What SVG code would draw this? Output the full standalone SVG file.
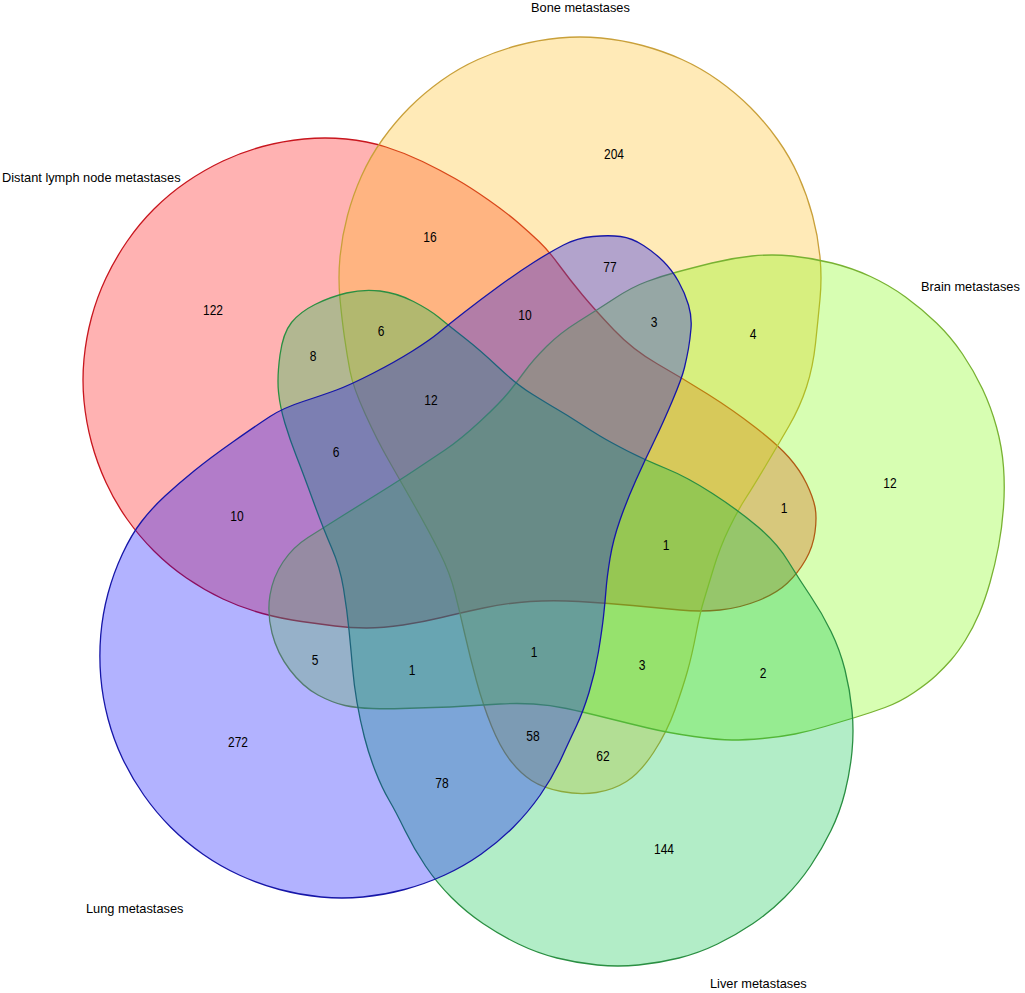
<svg xmlns="http://www.w3.org/2000/svg" width="1025" height="993" viewBox="0 0 1025 993">
<style>
.set { stroke-width: 1.3; stroke-linejoin: round; }
.t { font-family: "Liberation Sans", Arial, sans-serif; font-size: 14.5px; fill: #000; }
.lbl { font-family: "Liberation Sans", Arial, sans-serif; font-size: 12.8px; fill: #000; }
.num { text-anchor: middle; }
</style>
<rect x="0" y="0" width="1025" height="993" fill="#ffffff"/>
<g id="set-lymph">
<path class="set" fill="#FF0000" fill-opacity="0.3" stroke="#C8161E" d="M301.5,621.5 Q283,619 262.5,613.5 Q242,608 223,599 Q204,590 186.5,578 Q169,566 154,551 Q139,536 127,519 Q115,502 106,482.5 Q97,463 91.5,442.5 Q86,422 84,401 Q82,380 84,359 Q86,338 91.5,317.5 Q97,297 106,278 Q115,259 127,241.5 Q139,224 154,209 Q169,194 186.5,182 Q204,170 223,161 Q242,152 262.5,146.5 Q283,141 304,139 Q325,137 346,139 Q367,141 386,147 Q405,153 422.5,161.5 Q440,170 455,178.5 Q470,187 488.5,200 Q507,213 518.5,223 Q530,233 539,241.5 Q548,250 559,265 Q570,280 582.5,295 Q595,310 614,330 Q633,350 657.5,364 Q682,378 707.5,394 Q733,410 755.5,427.5 Q778,445 789,457.5 Q800,470 806.5,483.5 Q813,497 815,507 Q817,517 815,532 Q813,547 805.5,560 Q798,573 787.5,583 Q777,593 758.5,600.5 Q740,608 720,610 Q700,612 680,610 Q660,608 632.5,605.5 Q605,603 579,601.5 Q553,600 530,601.5 Q507,603 483.5,608 Q460,613 441.5,617.5 Q423,622 403,625 Q383,628 366.5,628 Q350,628 335,626 Q320,624 301.5,621.5 Z"/>
</g>
<g id="set-bone">
<path class="set" fill="#FFB90F" fill-opacity="0.3" stroke="#C9A03A" d="M344.5,337.5 Q342,320 340,299 Q338,278 340,257 Q342,236 347.5,215.5 Q353,195 361.5,176 Q370,157 382.5,139.5 Q395,122 409.5,107.5 Q424,93 441.5,80.5 Q459,68 478,59.5 Q497,51 517.5,45.5 Q538,40 559,38 Q580,36 601,38 Q622,40 642.5,45.5 Q663,51 682,59.5 Q701,68 718.5,80.5 Q736,93 750.5,107.5 Q765,122 777.5,139.5 Q790,157 798.5,176 Q807,195 812.5,215.5 Q818,236 820,257 Q822,278 820,299 Q818,320 815.5,343.5 Q813,367 806.5,387 Q800,407 789,426 Q778,445 765.5,466 Q753,487 745.5,498.5 Q738,510 729,528.5 Q720,547 713.5,568.5 Q707,590 703.5,601.5 Q700,613 696,634 Q692,655 687.5,671 Q683,687 675,709.5 Q667,732 653.5,752.5 Q640,773 626.5,781.5 Q613,790 596.5,792.5 Q580,795 561.5,791.5 Q543,788 531.5,780.5 Q520,773 510,760 Q500,747 491.5,726 Q483,705 476.5,681 Q470,657 465,635 Q460,613 455,593 Q450,573 440,553 Q430,533 415,506.5 Q400,480 388.5,460 Q377,440 365,413.5 Q353,387 350,371 Q347,355 344.5,337.5 Z"/>
</g>
<g id="set-brain">
<path class="set" fill="#7CFC00" fill-opacity="0.3" stroke="#78B232" d="M677,272 Q692,268 712,263 Q732,258 752,256 Q772,254 792,256 Q812,258 832,263 Q852,268 870.5,276.5 Q889,285 905.5,297 Q922,309 936.5,323 Q951,337 962.5,354 Q974,371 982.5,389 Q991,407 996.5,427 Q1002,447 1003.5,467 Q1005,487 1003.5,507.5 Q1002,528 998.5,546.5 Q995,565 990,582.5 Q985,600 979,614 Q973,628 965.5,640 Q958,652 951,660 Q944,668 936,675.5 Q928,683 914,692.5 Q900,702 885,707.5 Q870,713 855,717.5 Q840,722 825,726.5 Q810,731 795,734 Q780,737 762.5,738.5 Q745,740 732,740 Q719,740 694,736.5 Q669,733 648,728 Q627,723 605,717.5 Q583,712 566.5,708.5 Q550,705 533.5,704 Q517,703 500,704 Q483,705 466.5,706 Q450,707 433.5,707.5 Q417,708 402,708.5 Q387,709 372,708.5 Q357,708 345,705.5 Q333,703 318,695 Q303,687 290,670 Q277,653 272,633 Q267,613 270,595 Q273,577 283,562 Q293,547 308,537.5 Q323,528 343,515.5 Q363,503 381.5,491.5 Q400,480 415,470 Q430,460 445,450 Q460,440 480,421.5 Q500,403 508.5,392.5 Q517,382 525,371 Q533,360 546.5,346.5 Q560,333 578.5,321.5 Q597,310 614.5,298.5 Q632,287 647,281.5 Q662,276 677,272 Z"/>
</g>
<g id="set-liver">
<path class="set" fill="#00C346" fill-opacity="0.3" stroke="#2A8F42" d="M788,561 Q799,579 810.5,596 Q822,613 831,631.5 Q840,650 845,670 Q850,690 852,710.5 Q854,731 852,751.5 Q850,772 845,792 Q840,812 831,830.5 Q822,849 810.5,866 Q799,883 784.5,897.5 Q770,912 753,923.5 Q736,935 717.5,944 Q699,953 679,958 Q659,963 638.5,965 Q618,967 597.5,965 Q577,963 557,958 Q537,953 518.5,944 Q500,935 483,923.5 Q466,912 451.5,897.5 Q437,883 425.5,866 Q414,849 405,830.5 Q396,812 389,800 Q382,788 375.5,771.5 Q369,755 364.5,737.5 Q360,720 357,702.5 Q354,685 352.5,667.5 Q351,650 349,630 Q347,610 343.5,588.5 Q340,567 331.5,547.5 Q323,528 313,500.5 Q303,473 296.5,456.5 Q290,440 285,423.5 Q280,407 278.5,392 Q277,377 280,355 Q283,333 291.5,322.5 Q300,312 315,304.5 Q330,297 346.5,293 Q363,289 380,291 Q397,293 413.5,301.5 Q430,310 439,317.5 Q448,325 464,337.5 Q480,350 498,367 Q516,384 532,394 Q548,404 557.5,409.5 Q567,415 578.5,422.5 Q590,430 600,436 Q610,442 627.5,451 Q645,460 666,468.5 Q687,477 712.5,493.5 Q738,510 757.5,526.5 Q777,543 788,561 Z"/>
</g>
<g id="set-lung">
<path class="set" fill="#0000FF" fill-opacity="0.3" stroke="#1616A8" d="M576.5,725.75 Q570,739.5 561.25,758.5 Q552.5,777.5 540.25,795 Q528,812.5 513.25,827.25 Q498.5,842 481,854.25 Q463.5,866.5 444.25,875.25 Q425,884 404.5,889.5 Q384,895 363,897 Q342,899 321,897 Q300,895 279.5,889.5 Q259,884 239.75,875.25 Q220.5,866.5 203,854.25 Q185.5,842 170.75,827.25 Q156,812.5 143.75,795 Q131.5,777.5 122.5,758.5 Q113.5,739.5 108,718.75 Q102.5,698 100.75,677 Q99,656 100.75,635 Q102.5,614 108,593.5 Q113.5,573 122.5,553.75 Q131.5,534.5 141.75,521.25 Q152,508 165,496 Q178,484 194,471 Q210,458 233.5,441.5 Q257,425 270,416.5 Q283,408 303,401.5 Q323,395 336.5,390 Q350,385 372.5,373.5 Q395,362 412.5,351 Q430,340 439,332.5 Q448,325 464,312.5 Q480,300 498.5,286.5 Q517,273 533.5,262.5 Q550,252 563.5,245 Q577,238 593,236.5 Q609,235 620.5,236.5 Q632,238 643.5,245.5 Q655,253 663.5,261.5 Q672,270 678.5,281.5 Q685,293 688.5,305 Q692,317 691,328.5 Q690,340 688.5,348.5 Q687,357 684.5,367.5 Q682,378 672.5,400.5 Q663,423 654,441.5 Q645,460 636,480 Q627,500 620,520 Q613,540 610,558.5 Q607,577 606,590 Q605,603 603.5,616.5 Q602,630 598.5,651.5 Q595,673 589,692.5 Q583,712 576.5,725.75 Z"/>
</g>
<g id="labels">
<text class="lbl" x="2" y="182">Distant lymph node metastases</text>
<text class="lbl" x="531" y="12">Bone metastases</text>
<text class="lbl" x="921" y="291">Brain metastases</text>
<text class="lbl" x="86" y="913">Lung metastases</text>
<text class="lbl" x="710" y="988">Liver metastases</text>
</g>
<g id="counts">
<text class="t num" x="213" y="315.2" textLength="20" lengthAdjust="spacingAndGlyphs">122</text>
<text class="t num" x="430" y="242.2" textLength="13.4" lengthAdjust="spacingAndGlyphs">16</text>
<text class="t num" x="313" y="361.2" textLength="6.7" lengthAdjust="spacingAndGlyphs">8</text>
<text class="t num" x="381" y="336.2" textLength="6.7" lengthAdjust="spacingAndGlyphs">6</text>
<text class="t num" x="431" y="405.2" textLength="13.4" lengthAdjust="spacingAndGlyphs">12</text>
<text class="t num" x="336" y="457.2" textLength="6.7" lengthAdjust="spacingAndGlyphs">6</text>
<text class="t num" x="237" y="521.2" textLength="13.4" lengthAdjust="spacingAndGlyphs">10</text>
<text class="t num" x="614" y="159.2" textLength="20" lengthAdjust="spacingAndGlyphs">204</text>
<text class="t num" x="610" y="272.2" textLength="13.4" lengthAdjust="spacingAndGlyphs">77</text>
<text class="t num" x="525" y="320.2" textLength="13.4" lengthAdjust="spacingAndGlyphs">10</text>
<text class="t num" x="654" y="327.2" textLength="6.7" lengthAdjust="spacingAndGlyphs">3</text>
<text class="t num" x="753" y="339.2" textLength="6.7" lengthAdjust="spacingAndGlyphs">4</text>
<text class="t num" x="890" y="488.2" textLength="13.4" lengthAdjust="spacingAndGlyphs">12</text>
<text class="t num" x="784" y="513.2" textLength="6.7" lengthAdjust="spacingAndGlyphs">1</text>
<text class="t num" x="666" y="550.2" textLength="6.7" lengthAdjust="spacingAndGlyphs">1</text>
<text class="t num" x="534" y="657.2" textLength="6.7" lengthAdjust="spacingAndGlyphs">1</text>
<text class="t num" x="642" y="670.2" textLength="6.7" lengthAdjust="spacingAndGlyphs">3</text>
<text class="t num" x="763" y="678.2" textLength="6.7" lengthAdjust="spacingAndGlyphs">2</text>
<text class="t num" x="533" y="741.2" textLength="13.4" lengthAdjust="spacingAndGlyphs">58</text>
<text class="t num" x="603" y="761.2" textLength="13.4" lengthAdjust="spacingAndGlyphs">62</text>
<text class="t num" x="664" y="854.2" textLength="20" lengthAdjust="spacingAndGlyphs">144</text>
<text class="t num" x="315" y="665.2" textLength="6.7" lengthAdjust="spacingAndGlyphs">5</text>
<text class="t num" x="412" y="675.2" textLength="6.7" lengthAdjust="spacingAndGlyphs">1</text>
<text class="t num" x="238" y="747.2" textLength="20" lengthAdjust="spacingAndGlyphs">272</text>
<text class="t num" x="442" y="788.2" textLength="13.4" lengthAdjust="spacingAndGlyphs">78</text>
</g>
</svg>
